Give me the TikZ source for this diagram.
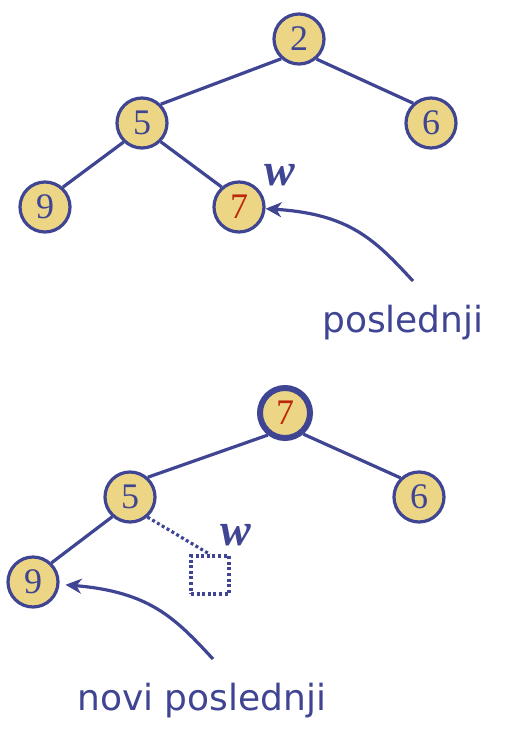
\documentclass[tikz,border=0pt]{standalone}
\usepackage{fontspec}
\setmainfont{Liberation Serif}
\newfontfamily\labfont{DejaVu Sans}
\usetikzlibrary{arrows.meta}
\definecolor{edgeblue}{RGB}{63,69,146}
\definecolor{nodefill}{RGB}{236,214,134}
\definecolor{keyred}{RGB}{190,40,10}
\tikzset{
  heap/.style={circle, draw=edgeblue, fill=nodefill, line width=3.2pt, minimum size=50pt, inner sep=0pt, text=edgeblue, font=\fontsize{36}{36}\selectfont},
  heapthick/.style={heap, line width=6pt, minimum size=50pt},
  red/.style={text=keyred},
  edge/.style={draw=edgeblue, line width=3.2pt},
  pointer/.style={draw=edgeblue, line width=3.2pt, -{Stealth[length=16pt,width=15pt,inset=5pt]}},
  dotline/.style={draw=edgeblue, line width=3.2pt, dash pattern=on 3pt off 2.6pt},
  wlab/.style={text=edgeblue, font=\fontsize{46}{46}\selectfont\bfseries\itshape, inner sep=0pt, anchor=base},
  caption/.style={text=edgeblue, font=\labfont\fontsize{36}{36}\selectfont, inner sep=0pt, anchor=base west}
}
\begin{document}
\begin{tikzpicture}[x=1pt, y=-1pt]
\useasboundingbox (0,0) rectangle (511,745);
% top tree
\node[heap] (t2) at (299,39) {2};
\node[heap] (t5) at (142,123) {5};
\node[heap] (t6) at (431,123) {6};
\node[heap] (t9) at (45,207) {9};
\node[heap, red] (t7) at (239,207) {7};
\draw[edge] (t2.228) -- (t5.45);
\draw[edge] (t2.311) -- (t6.132);
\draw[edge] (t5.226) -- (t9.48);
\draw[edge] (t5.315) -- (t7.131);
\node[wlab] (tw) at (280,185) {w};
\coordinate (ts) at (413,281);
\draw[pointer] (ts) .. controls (375,240) and (350,214) .. (t7);
\node[caption] (tc) at (322,332) {poslednji};
% bottom tree
\node[heapthick, red] (b7) at (285,413) {7};
\node[heap] (b5) at (130,497) {5};
\node[heap] (b6) at (419,497) {6};
\node[heap] (b9) at (33,582) {9};
\node[draw=edgeblue, line width=3.2pt, dash pattern=on 3pt off 2.6pt, minimum size=38pt, inner sep=0pt] (sq) at (210,575) {};
\draw[edge] (b7.232) -- (b5.48);
\draw[edge] (b7.311) -- (b6.134);
\draw[edge] (b5.228) -- (b9.46);
\draw[dotline] (b5.311) -- (sq.north);
\node[wlab] (bw) at (236,545) {w};
\coordinate (bs) at (213,659);
\draw[pointer, shorten >=6pt] (bs) .. controls (175,618) and (150,592) .. (b9);
\node[caption] (bc) at (77,710) {novi poslednji};
\end{tikzpicture}
\end{document}
